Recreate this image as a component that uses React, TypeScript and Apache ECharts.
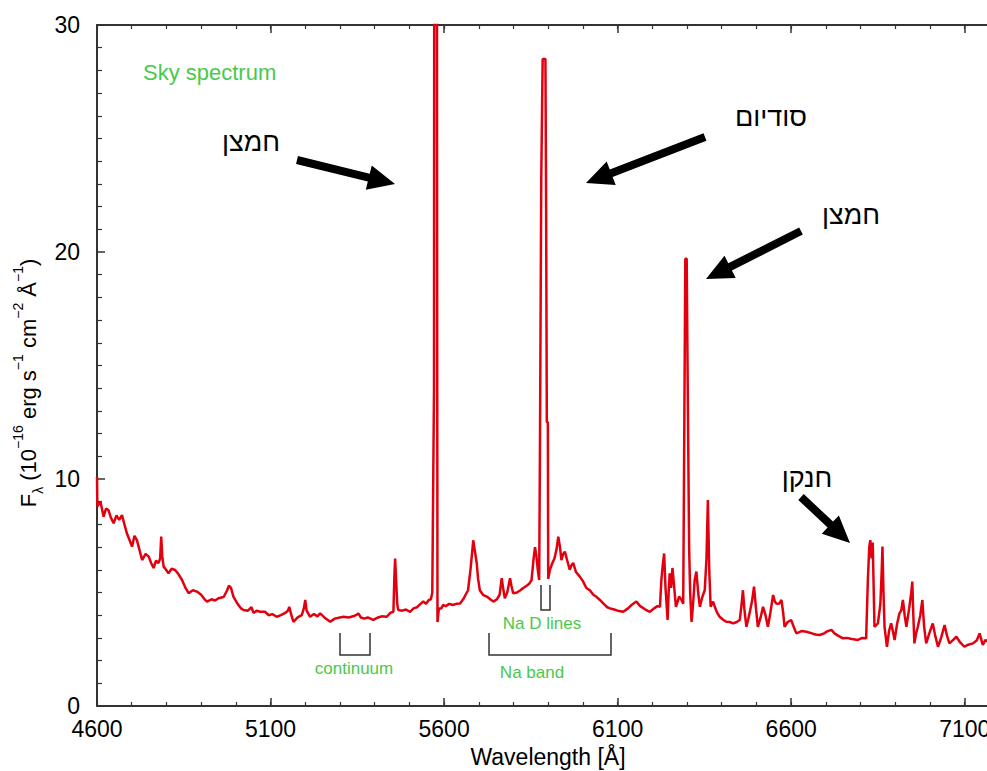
import React, { useEffect, useRef } from 'react';
import * as echarts from 'echarts';

// Wavelength samples (Å) and flux (10^-16 erg s^-1 cm^-2 Å^-1)
const wavelengths = [
  4600, 4601, 4610, 4619, 4626, 4633, 4640, 4648, 4656, 4664, 4672, 4679, 4686, 4694, 4701, 4708, 4715, 4722, 4730, 4740,
  4749, 4756, 4763, 4770, 4777, 4782, 4785, 4788, 4792, 4799, 4806, 4815, 4825, 4835, 4845, 4855, 4864, 4876, 4888, 4900,
  4910, 4917, 4930, 4940, 4950, 4965, 4975, 4980, 4986, 4993, 5005, 5015, 5022, 5035, 5045, 5051, 5060, 5070, 5084, 5095,
  5105, 5118, 5130, 5142, 5150, 5154, 5160, 5166, 5178, 5190, 5196, 5200, 5204, 5214, 5225, 5235, 5243, 5255, 5264, 5272,
  5285, 5300, 5310, 5325, 5338, 5346, 5353, 5360, 5370, 5380, 5396, 5410, 5420, 5435, 5445, 5454, 5457, 5459, 5462, 5465,
  5468, 5480, 5490, 5502, 5512, 5522, 5532, 5540, 5548, 5556, 5562, 5566, 5569, 5571, 5572, 5579, 5580, 5581, 5585, 5592,
  5597, 5605, 5615, 5625, 5635, 5646, 5655, 5662, 5669, 5676, 5681, 5684, 5688, 5694, 5698, 5703, 5712, 5723, 5733, 5742,
  5752, 5760, 5766, 5770, 5775, 5782, 5790, 5794, 5799, 5810, 5820, 5828, 5838, 5846, 5852, 5858, 5862, 5866, 5870, 5874,
  5876, 5880, 5884, 5892, 5894, 5896, 5899, 5900, 5905, 5912, 5918, 5924, 5929, 5934, 5938, 5943, 5948, 5955, 5962, 5967,
  5972, 5980, 5991, 6000, 6010, 6020, 6030, 6040, 6049, 6060, 6070, 6078, 6090, 6100, 6116, 6130, 6140, 6154, 6165, 6180,
  6193, 6205, 6215, 6222, 6226, 6230, 6234, 6238, 6244, 6247, 6250, 6254, 6258, 6262, 6268, 6273, 6277, 6283, 6289, 6292,
  6295, 6299, 6302, 6306, 6309, 6313, 6317, 6322, 6327, 6332, 6337, 6344, 6351, 6356, 6360, 6364, 6368, 6375, 6380, 6387,
  6394, 6404, 6413, 6423, 6433, 6443, 6452, 6458, 6461, 6465, 6471, 6476, 6480, 6487, 6493, 6498, 6504, 6512, 6519, 6526,
  6533, 6540, 6548, 6553, 6557, 6565, 6572, 6577, 6581, 6590, 6600, 6607, 6615, 6630, 6644, 6660, 6670, 6682, 6695, 6705,
  6716, 6725, 6735, 6749, 6760, 6775, 6792, 6805, 6816, 6821, 6825, 6828, 6832, 6835, 6838, 6840, 6850, 6857, 6861, 6863,
  6866, 6869, 6876, 6882, 6888, 6893, 6898, 6905, 6912, 6917, 6922, 6927, 6932, 6940, 6946, 6949, 6952, 6955, 6960, 6965,
  6972, 6978, 6983, 6989, 6998, 7008, 7015, 7023, 7032, 7042, 7049, 7056, 7066, 7076, 7087, 7099, 7110, 7124, 7135, 7143,
  7152, 7160, 7170,
];

const flux = [
  10.1, 8.8, 9.0, 8.34, 8.7, 8.63, 8.3, 8.05, 8.4, 8.2, 8.41, 8.0, 7.61, 7.3, 7.02, 7.5, 7.31, 6.9, 6.43, 6.7,
  6.58, 6.3, 6.08, 6.4, 6.3, 6.5, 7.46, 6.6, 6.14, 6.0, 5.85, 6.05, 5.99, 5.8, 5.55, 5.2, 4.97, 5.1, 5.04, 4.9,
  4.7, 4.6, 4.7, 4.65, 4.75, 4.8, 5.1, 5.3, 5.2, 4.82, 4.5, 4.3, 4.23, 4.2, 4.35, 4.1, 4.2, 4.15, 4.15, 4.0,
  4.05, 3.93, 4.0, 4.1, 4.2, 4.37, 4.0, 3.71, 3.9, 4.0, 4.3, 4.67, 4.2, 3.93, 4.05, 3.95, 4.08, 3.9, 3.8, 3.71,
  3.85, 3.9, 3.93, 3.9, 3.95, 4.0, 4.08, 3.9, 3.85, 3.9, 3.79, 3.9, 3.95, 3.93, 4.1, 4.15, 5.8, 6.5, 5.5, 4.5,
  4.23, 4.2, 4.25, 4.15, 4.3, 4.35, 4.5, 4.6, 4.5, 4.67, 4.7, 5.0, 10.4, 14.0, 45, 45, 18.5, 3.7, 4.3, 4.3,
  4.45, 4.4, 4.5, 4.45, 4.5, 4.52, 4.7, 4.9, 5.1, 6.0, 6.8, 7.3, 6.9, 6.3, 5.6, 5.1, 4.9, 4.82, 4.7, 4.6,
  4.7, 4.9, 5.63, 5.2, 4.75, 5.0, 5.63, 5.3, 4.97, 5.0, 5.1, 5.2, 5.3, 5.4, 5.55, 6.5, 7.0, 6.6, 6.0, 5.55,
  10.7, 23.3, 28.5, 28.5, 21.9, 12.5, 12.5, 5.6, 6.0, 6.3, 6.5, 6.9, 7.46, 7.0, 6.43, 6.7, 6.8, 6.4, 6.0, 6.2,
  6.3, 5.9, 5.7, 5.5, 5.2, 5.1, 4.9, 4.8, 4.67, 4.5, 4.35, 4.3, 4.25, 4.2, 4.15, 4.3, 4.45, 4.6, 4.4, 4.25,
  4.15, 4.3, 4.4, 4.37, 5.55, 6.2, 6.72, 5.2, 3.79, 5.0, 5.85, 5.2, 6.08, 5.4, 4.37, 4.6, 4.82, 4.7, 4.5, 12.0,
  19.7, 19.7, 14.0, 7.0, 5.0, 3.7, 4.4, 5.55, 5.92, 5.0, 4.37, 4.8, 5.1, 6.5, 9.07, 6.0, 4.37, 4.6, 4.37, 4.1,
  3.93, 3.8, 3.71, 3.7, 3.64, 3.7, 3.79, 4.6, 5.1, 4.3, 3.49, 3.8, 4.08, 4.6, 5.26, 4.4, 3.49, 3.9, 4.37, 4.0,
  3.49, 4.1, 4.89, 4.6, 4.52, 4.5, 4.67, 4.1, 3.49, 3.7, 3.79, 3.5, 3.2, 3.3, 3.27, 3.2, 3.15, 3.13, 3.2, 3.3,
  3.35, 3.2, 3.1, 2.98, 3.0, 2.95, 2.91, 3.0, 2.98, 5.55, 7.0, 7.31, 6.5, 7.2, 5.0, 3.49, 3.64, 4.5, 6.0, 7.02,
  5.0, 3.49, 2.61, 3.3, 3.64, 3.3, 2.91, 3.6, 4.08, 4.2, 4.67, 4.0, 3.49, 4.3, 5.0, 5.48, 4.0, 2.76, 3.2, 3.49,
  4.0, 4.67, 3.5, 2.76, 3.2, 3.64, 3.1, 2.61, 3.0, 3.57, 3.1, 2.76, 2.9, 3.05, 2.8, 2.61, 2.7, 2.76, 2.9, 3.2,
  2.69, 2.91, 2.8,
];

const xTickLabels = ['4600', '5100', '5600', '6100', '6600', '7100'];
const yTickLabels = ['0', '10', '20', '30'];

const titleText = 'Sky spectrum';
const xAxisTitle = 'Wavelength [Å]';
const hebrewOxygen = 'חמצן';
const hebrewSodium = 'סודיום';
const hebrewNitrogen = 'חנקן';
const bracketLabels = ['continuum', 'Na D lines', 'Na band'];

const X_MIN = 4600;
const X_MAX = 7170;

const GREEN = '#4ac84a';
const AXIS = '#333';
const FONT = '"Liberation Sans", Arial, Helvetica, "DejaVu Sans", sans-serif';

function arrowPoints(x1: number, y1: number, x2: number, y2: number, sw: number, hl: number, hw: number) {
  const dx = x2 - x1;
  const dy = y2 - y1;
  const L = Math.hypot(dx, dy);
  const ux = dx / L;
  const uy = dy / L;
  const nx = -uy;
  const ny = ux;
  const bx = x2 - ux * hl;
  const by = y2 - uy * hl;
  return [
    [x1 + (nx * sw) / 2, y1 + (ny * sw) / 2],
    [bx + (nx * sw) / 2, by + (ny * sw) / 2],
    [bx + (nx * hw) / 2, by + (ny * hw) / 2],
    [x2, y2],
    [bx - (nx * hw) / 2, by - (ny * hw) / 2],
    [bx - (nx * sw) / 2, by - (ny * sw) / 2],
    [x1 - (nx * sw) / 2, y1 - (ny * sw) / 2],
  ];
}

function arrow(x1: number, y1: number, x2: number, y2: number) {
  return {
    type: 'polygon',
    z: 100,
    shape: { points: arrowPoints(x1, y1, x2, y2, 8, 27, 25) },
    style: { fill: '#000' },
  };
}

function bracket(x1: number, x2: number, yTop: number, yBot: number) {
  return {
    type: 'polyline',
    z: 50,
    shape: { points: [[x1, yTop], [x1, yBot], [x2, yBot], [x2, yTop]] },
    style: { stroke: AXIS, lineWidth: 1.5, fill: 'none' },
  };
}

function label(text: string, x: number, y: number, size: number, color: string, align = 'center') {
  return {
    type: 'text',
    z: 100,
    x,
    y,
    style: { text, fill: color, font: `${size}px ${FONT}`, align, verticalAlign: 'middle' },
  };
}

export default function App() {
  const ref = useRef<HTMLDivElement>(null);

  useEffect(() => {
    if (!ref.current) return;
    const chart = echarts.init(ref.current, null, { renderer: 'svg' });
    const data = wavelengths.map((w, i) => [w, flux[i]]);
    const left = 97;
    const top = 25;
    const width = 892;
    const height = 681;

    const xBase = {
      type: 'value',
      min: X_MIN,
      max: X_MAX,
      gridIndex: 0,
      splitLine: { show: false },
    };

    const option = {
      animation: false,
      backgroundColor: '#fff',
      grid: { left, top, width, height, containLabel: false, outerBoundsMode: 'none' },
      xAxis: [
        {
          ...xBase,
          position: 'bottom',
          interval: 500,
          axisLine: { show: true, onZero: false, lineStyle: { color: AXIS, width: 2 } },
          axisTick: { show: true, inside: true, length: 8, lineStyle: { color: AXIS, width: 1.5 } },
          axisLabel: {
            show: true,
            margin: 11,
            fontSize: 23,
            color: '#000',
            fontFamily: FONT,
            formatter: (v: number) => (xTickLabels.includes(String(v)) ? String(v) : ''),
          },
        },
        {
          ...xBase,
          position: 'bottom',
          interval: 100,
          axisLine: { show: false, onZero: false },
          axisTick: { show: true, inside: true, length: 4, lineStyle: { color: AXIS, width: 1.2 } },
          axisLabel: { show: false },
        },
        {
          ...xBase,
          position: 'top',
          interval: 500,
          axisLine: { show: true, onZero: false, lineStyle: { color: AXIS, width: 2 } },
          axisTick: { show: true, inside: true, length: 8, lineStyle: { color: AXIS, width: 1.5 } },
          axisLabel: { show: false },
        },
        {
          ...xBase,
          position: 'top',
          interval: 100,
          axisLine: { show: false, onZero: false },
          axisTick: { show: true, inside: true, length: 4, lineStyle: { color: AXIS, width: 1.2 } },
          axisLabel: { show: false },
        },
      ],
      yAxis: [
        {
          type: 'value',
          min: 0,
          max: 30,
          interval: 10,
          position: 'left',
          splitLine: { show: false },
          axisLine: { show: true, onZero: false, lineStyle: { color: AXIS, width: 2 } },
          axisTick: { show: true, inside: true, length: 8, lineStyle: { color: AXIS, width: 1.5 } },
          minorTick: { show: true, splitNumber: 10, length: 5, lineStyle: { color: AXIS, width: 1.2 } },
          axisLabel: {
            show: true,
            margin: 17,
            fontSize: 23,
            color: '#000',
            fontFamily: FONT,
            formatter: (v: number) => (yTickLabels.includes(String(v)) ? String(v) : ''),
          },
        },
      ],
      series: [
        {
          type: 'line',
          xAxisIndex: 0,
          yAxisIndex: 0,
          data,
          showSymbol: false,
          symbol: 'none',
          clip: true,
          lineStyle: { color: '#e2000f', width: 2.5 },
          z: 5,
        },
      ],
      graphic: [
        label(titleText, 143, 72, 22, GREEN, 'left'),
        label(hebrewOxygen, 251, 142, 27, '#000'),
        label(hebrewSodium, 771, 117, 27, '#000'),
        label(hebrewOxygen, 851, 215, 27, '#000'),
        label(hebrewNitrogen, 807, 478, 27, '#000'),
        arrow(297, 160, 395, 184),
        arrow(705, 137, 586, 183),
        arrow(801, 231, 706, 279),
        arrow(801, 497, 850, 543),
        bracket(340, 370, 633, 655),
        bracket(541, 550, 585, 610),
        bracket(489, 611, 633, 655),
        label(bracketLabels[0], 354, 668, 17, GREEN),
        label(bracketLabels[1], 542, 623, 17, GREEN),
        label(bracketLabels[2], 532, 672, 17, GREEN),
        label(xAxisTitle, 548, 757, 23, '#000'),
        {
          type: 'text',
          z: 100,
          x: 28,
          y: 383,
          rotation: Math.PI / 2,
          style: {
            text: '{m|F}{sub|λ}{m| (10}{sup|−16}{m| erg s}{sup|−1}{m| cm}{sup|−2}{m| Å}{sup|−1}{m|)}',
            align: 'center',
            verticalAlign: 'middle',
            fill: '#000',
            rich: {
              m: { fontSize: 22, fontFamily: FONT, fill: '#000', lineHeight: 34, verticalAlign: 'middle' },
              sup: { fontSize: 14, fontFamily: FONT, fill: '#000', lineHeight: 14, verticalAlign: 'top' },
              sub: { fontSize: 14, fontFamily: FONT, fill: '#000', lineHeight: 14, verticalAlign: 'bottom' },
            },
          },
        },
      ],
    };

    chart.setOption(option as any);
    return () => chart.dispose();
  }, []);

  return (
    <div style={{ position: 'fixed', left: 0, top: 0, width: 987, height: 771, overflow: 'hidden', background: '#fff' }}>
      <div ref={ref} style={{ width: 987, height: 771 }} />
    </div>
  );
}
